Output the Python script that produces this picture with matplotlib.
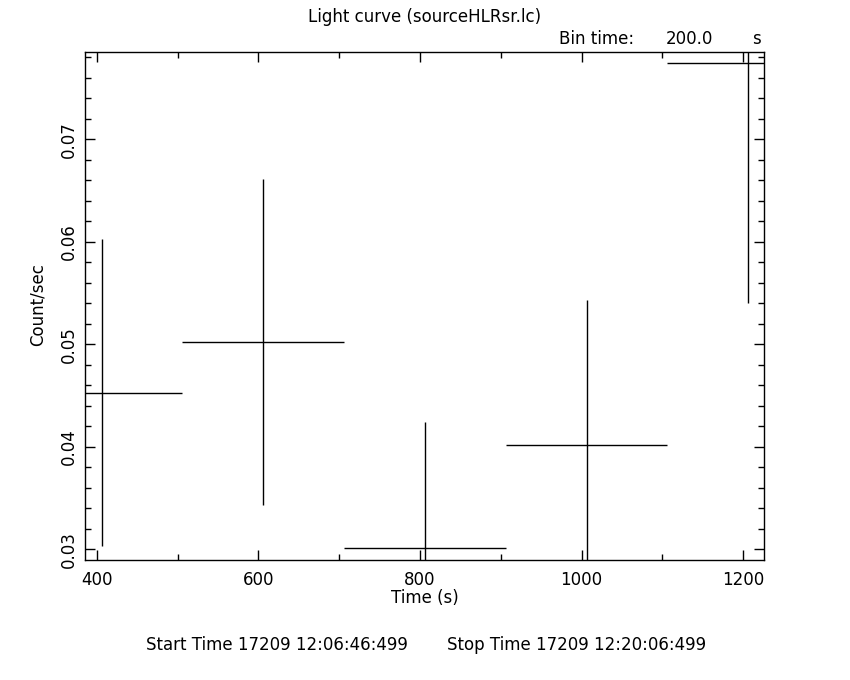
import matplotlib
matplotlib.use("Agg")
import matplotlib.pyplot as plt
from matplotlib.ticker import MultipleLocator

# Data
time = [406, 606, 806, 1006, 1206]
rate = [0.04528, 0.05020, 0.03010, 0.04015, 0.07742]
rate_err = [0.0150, 0.0159, 0.0123, 0.0142, 0.0234]
bin_half = [100, 100, 100, 100, 100]

title = "Light curve (sourceHLRsr.lc)"
bin_text = ["Bin time:", "200.0", "s"]
start_text = "Start Time 17209 12:06:46:499"
stop_text = "Stop Time 17209 12:20:06:499"

plt.rcParams['font.family'] = ['DejaVu Sans']
fs = 12

fig = plt.figure(figsize=(8.5, 6.8), dpi=100)
ax = fig.add_axes([85/850, (680-560)/680, (764-85)/850, (560-51.7)/680])

ax.errorbar(time, rate, xerr=bin_half, yerr=rate_err, fmt='none',
            ecolor='black', elinewidth=1.0, capsize=0)

ax.set_xlim(385.5, 1225.6)
ax.set_ylim(0.02896, 0.07855)

ax.xaxis.set_major_locator(MultipleLocator(200))
ax.xaxis.set_minor_locator(MultipleLocator(100))
ax.yaxis.set_major_locator(MultipleLocator(0.01))
ax.yaxis.set_minor_locator(MultipleLocator(0.002))
ax.tick_params(which='both', direction='in', top=True, right=True,
               color='black', width=1.0, labelsize=fs)
ax.tick_params(which='major', length=7)
ax.tick_params(which='minor', length=4)
ax.tick_params(axis='x', pad=8)
ax.tick_params(axis='y', pad=5)
for lab in ax.get_yticklabels():
    lab.set_rotation(90)
    lab.set_va('center')
for s in ax.spines.values():
    s.set_linewidth(1.0)
    s.set_color('black')

ax.set_xlabel("Time (s)", fontsize=fs)
ax.set_ylabel("Count/sec", fontsize=fs)
ax.xaxis.set_label_coords((425-85)/679, -(598-560)/508.3)
ax.yaxis.set_label_coords(-(85-38)/679, (560-305)/508.3)
ax.xaxis.label.set_va('center')
ax.yaxis.label.set_va('center')

fig.text(425/850, 1 - 17/680, title, ha='center', va='center', fontsize=fs)
fig.text(634/850, 1 - 39/680, bin_text[0], ha='right', va='center', fontsize=fs)
fig.text(713/850, 1 - 39/680, bin_text[1], ha='right', va='center', fontsize=fs)
fig.text(761/850, 1 - 39/680, bin_text[2], ha='right', va='center', fontsize=fs)

fig.text(146/850, 1 - 645/680, start_text, ha='left', va='center', fontsize=fs)
fig.text(706/850, 1 - 645/680, stop_text, ha='right', va='center', fontsize=fs)

fig.savefig("out.png", dpi=100)
